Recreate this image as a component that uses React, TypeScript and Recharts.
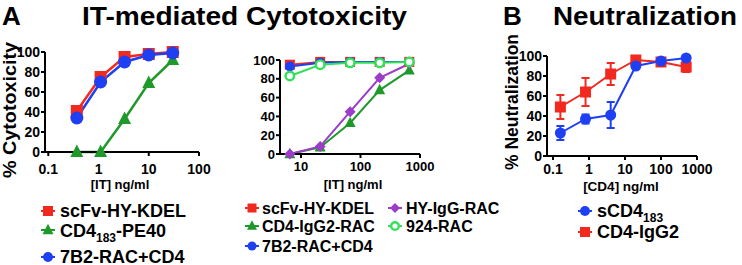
import { LineChart, Line, XAxis, YAxis, ErrorBar } from 'recharts'

const FONT = '"Liberation Sans", Arial, Helvetica, sans-serif'

const RED = '#f2291e'
const GREEN = '#1f9a2a'
const BLUE = '#1f3ff2'
const PURPLE = '#9b3dc8'
const LIGHT_GREEN = '#33e05a'

// A, left: IT dose (ng/ml) vs % cytotoxicity
const doseA1 = [0.37, 1.1, 3.3, 10, 30]
const scfvA1 = [41, 75, 95, 98, 100]
const pe40A1 = [0, 0, 33, 69, 92]
const b7racA1 = [34, 70, 90, 97, 99]

// A, right
const doseA2 = [6.5, 21, 67, 210, 660]
const scfvA2 = [95, 98, 98, 98, 98]
const igg2racA2 = [0, 7, 33, 68, 89]
const b7racA2 = [93, 97, 98, 98, 98]
const hyiggA2 = [0, 8, 45, 81, 96]
const rac924A2 = [83, 95, 97, 97, 98]

// B: CD4 dose (ng/ml) vs % neutralization, with error
const doseB = [0.16, 0.8, 4, 20, 100, 500]
const scd4B = [23, 37, 41, 90, 95, 98]
const scd4ErrB = [7, 4.5, 13, 2, 1, 1]
const igg2B = [49, 64, 82, 96, 94, 89]
const igg2ErrB = [12, 14, 11, 4, 2, 5]

const yTicks = [0, 20, 40, 60, 80, 100]
const xTicksA1 = [0.1, 1, 10, 100]
const xTicksA2 = [10, 100, 1000]
const xTicksB = [0.1, 1, 10, 100, 1000]

const dataA1 = doseA1.map((x, i) => ({ x, scfv: scfvA1[i], pe40: pe40A1[i], b7rac: b7racA1[i] }))
const dataA2 = doseA2.map((x, i) => ({
  x,
  scfv: scfvA2[i],
  igg2rac: igg2racA2[i],
  b7rac: b7racA2[i],
  hyigg: hyiggA2[i],
  rac924: rac924A2[i],
}))
const dataB = doseB.map((x, i) => ({
  x,
  scd4: scd4B[i],
  scd4Err: scd4ErrB[i],
  igg2: igg2B[i],
  igg2Err: igg2ErrB[i],
}))

type Shape = 'square' | 'circle' | 'triangle' | 'diamond' | 'ring'

function Marker({ shape, x, y, size, color }: { shape: Shape; x: number; y: number; size: number; color: string }) {
  const h = size / 2
  if (shape === 'square') return <rect x={x - h} y={y - h} width={size} height={size} fill={color} />
  if (shape === 'circle') return <circle cx={x} cy={y} r={h} fill={color} />
  if (shape === 'triangle')
    return <polygon points={`${x},${y - h * 1.15} ${x + h},${y + h * 0.75} ${x - h},${y + h * 0.75}`} fill={color} />
  if (shape === 'diamond')
    return <polygon points={`${x},${y - h} ${x + h},${y} ${x},${y + h} ${x - h},${y}`} fill={color} />
  return <circle cx={x} cy={y} r={h - 1.2} fill="#fff" stroke={color} strokeWidth={2.4} />
}

const dot = (shape: Shape, size: number, color: string) => (p: { cx?: number; cy?: number; index?: number }) =>
  (
    <Marker key={`${shape}-${color}-${p.index}`} shape={shape} x={p.cx ?? 0} y={p.cy ?? 0} size={size} color={color} />
  )

const axisProps = {
  stroke: '#000',
  strokeWidth: 2,
  tickSize: 4,
  interval: 0 as const,
}

function LegendKey({ x, y, shape, color, size }: { x: number; y: number; shape: Shape; color: string; size: number }) {
  return (
    <g>
      <line x1={x - 7} x2={x + 7} y1={y} y2={y} stroke={color} strokeWidth={2} />
      <Marker shape={shape} x={x} y={y} size={size} color={color} />
    </g>
  )
}

export default function App() {
  const tick14 = { fill: '#000', fontSize: 14, fontWeight: 700, fontFamily: FONT }
  const tick13 = { fill: '#000', fontSize: 13, fontWeight: 700, fontFamily: FONT }

  return (
    <div style={{ position: 'absolute', left: 0, top: 0, width: 742, height: 265, background: '#fff' }}>
      <div style={{ position: 'absolute', left: 0, top: 0 }}>
        <LineChart width={216} height={177} data={dataA1} margin={{ top: 52, right: 17, bottom: 0, left: 0 }}>
          <XAxis
            dataKey="x"
            type="number"
            scale="log"
            domain={[0.086, 100]}
            ticks={xTicksA1}
            height={25}
            tick={tick14}
            tickMargin={8}
            {...axisProps}
          />
          <YAxis type="number" domain={[0, 100]} ticks={yTicks} width={45} tick={tick14} tickMargin={1} {...axisProps} />
          <Line dataKey="scfv" stroke={RED} strokeWidth={2.5} dot={dot('square', 12, RED)} isAnimationActive={false} />
          <Line dataKey="pe40" stroke={GREEN} strokeWidth={2.5} dot={dot('triangle', 13, GREEN)} isAnimationActive={false} />
          <Line dataKey="b7rac" stroke={BLUE} strokeWidth={2.5} dot={dot('circle', 13, BLUE)} isAnimationActive={false} />
        </LineChart>
      </div>

      <div style={{ position: 'absolute', left: 238, top: 0 }}>
        <LineChart width={200} height={179} data={dataA2} margin={{ top: 60, right: 18, bottom: 0, left: 0 }}>
          <XAxis
            dataKey="x"
            type="number"
            scale="log"
            domain={[4.44, 1000]}
            ticks={xTicksA2}
            height={25}
            tick={tick13}
            tickMargin={4}
            {...axisProps}
          />
          <YAxis type="number" domain={[0, 100]} ticks={yTicks} width={42} tick={tick13} tickMargin={1} {...axisProps} />
          <Line dataKey="scfv" stroke={RED} strokeWidth={2} dot={dot('square', 10, RED)} isAnimationActive={false} />
          <Line dataKey="igg2rac" stroke={GREEN} strokeWidth={2} dot={dot('triangle', 11, GREEN)} isAnimationActive={false} />
          <Line dataKey="b7rac" stroke={BLUE} strokeWidth={2} dot={dot('circle', 10, BLUE)} isAnimationActive={false} />
          <Line dataKey="hyigg" stroke={PURPLE} strokeWidth={2} dot={dot('diamond', 11, PURPLE)} isAnimationActive={false} />
          <Line dataKey="rac924" stroke={LIGHT_GREEN} strokeWidth={2} dot={dot('ring', 11, LIGHT_GREEN)} isAnimationActive={false} />
        </LineChart>
      </div>

      <div style={{ position: 'absolute', left: 503, top: 0 }}>
        <LineChart width={216} height={181} data={dataB} margin={{ top: 56, right: 22, bottom: 0, left: 0 }}>
          <XAxis
            dataKey="x"
            type="number"
            scale="log"
            domain={[0.068, 1000]}
            ticks={xTicksB}
            height={25}
            tick={tick14}
            tickMargin={4}
            {...axisProps}
          />
          <YAxis type="number" domain={[0, 100]} ticks={yTicks} width={44} tick={tick14} tickMargin={1} {...axisProps} />
          <Line dataKey="igg2" stroke={RED} strokeWidth={2} dot={dot('square', 11, RED)} isAnimationActive={false}>
            <ErrorBar dataKey="igg2Err" direction="y" width={4} stroke={RED} strokeWidth={2} isAnimationActive={false} />
          </Line>
          <Line dataKey="scd4" stroke={BLUE} strokeWidth={2} dot={dot('circle', 11, BLUE)} isAnimationActive={false}>
            <ErrorBar dataKey="scd4Err" direction="y" width={4} stroke={BLUE} strokeWidth={2} isAnimationActive={false} />
          </Line>
        </LineChart>
      </div>

      <svg
        width={742}
        height={265}
        style={{ position: 'absolute', left: 0, top: 0, pointerEvents: 'none' }}
        fontFamily={FONT}
        fontWeight={700}
      >
        <text x={2} y={25} fontSize={26}>A</text>
        <text x={82} y={25} fontSize={26} textLength={325} lengthAdjust="spacingAndGlyphs">
          IT-mediated Cytotoxicity
        </text>
        <text x={503} y={25} fontSize={26}>B</text>
        <text x={553} y={25} fontSize={26} textLength={184} lengthAdjust="spacingAndGlyphs">
          Neutralization
        </text>

        <text
          transform="translate(16,110) rotate(-90)"
          textAnchor="middle"
          fontSize={19}
          textLength={136}
          lengthAdjust="spacingAndGlyphs"
        >
          % Cytotoxicity
        </text>
        <text
          transform="translate(518,102) rotate(-90)"
          textAnchor="middle"
          fontSize={18}
          textLength={136}
          lengthAdjust="spacingAndGlyphs"
        >
          % Neutralization
        </text>

        <text x={120} y={189} textAnchor="middle" fontSize={13}>[IT] ng/ml</text>
        <text x={353} y={189} textAnchor="middle" fontSize={13}>[IT] ng/ml</text>
        <text x={621} y={191} textAnchor="middle" fontSize={13.5}>[CD4] ng/ml</text>

        {/* legend A left */}
        <LegendKey x={48} y={211} shape="square" color={RED} size={10} />
        <text x={60} y={217} fontSize={18}>scFv-HY-KDEL</text>
        <LegendKey x={48} y={230} shape="triangle" color={GREEN} size={11} />
        <text x={60} y={237} fontSize={18}>
          CD4<tspan fontSize={12} dy={5}>183</tspan>
          <tspan dy={-5}>-PE40</tspan>
        </text>
        <LegendKey x={48} y={257} shape="circle" color={BLUE} size={10} />
        <text x={60} y={263} fontSize={18}>7B2-RAC+CD4</text>

        {/* legend A right */}
        <LegendKey x={252} y={208} shape="square" color={RED} size={9} />
        <text x={262} y={213.5} fontSize={16}>scFv-HY-KDEL</text>
        <LegendKey x={252} y={226} shape="triangle" color={GREEN} size={10} />
        <text x={262} y={231.5} fontSize={16}>CD4-IgG2-RAC</text>
        <LegendKey x={252} y={246} shape="circle" color={BLUE} size={9} />
        <text x={262} y={251.5} fontSize={16}>7B2-RAC+CD4</text>
        <LegendKey x={395} y={208} shape="diamond" color={PURPLE} size={10} />
        <text x={406} y={213.5} fontSize={16}>HY-IgG-RAC</text>
        <LegendKey x={395} y={226} shape="ring" color={LIGHT_GREEN} size={10} />
        <text x={406} y={231.5} fontSize={16}>924-RAC</text>

        {/* legend B */}
        <LegendKey x={585} y={211} shape="circle" color={BLUE} size={10} />
        <text x={597} y={217} fontSize={18}>
          sCD4<tspan fontSize={12} dy={5}>183</tspan>
        </text>
        <LegendKey x={585} y={232} shape="square" color={RED} size={10} />
        <text x={597} y={238} fontSize={18}>CD4-IgG2</text>
      </svg>
    </div>
  )
}
